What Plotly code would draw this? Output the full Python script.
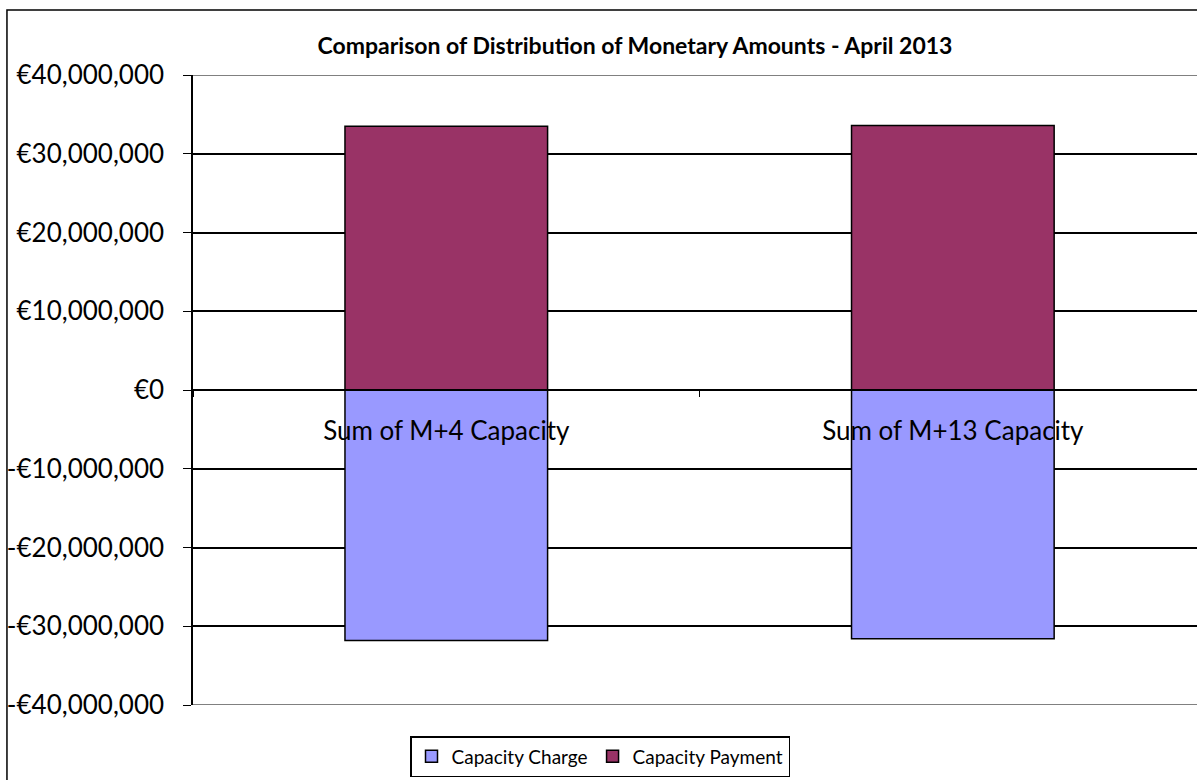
import plotly.graph_objects as go

# Data
categories = ["Sum of M+4 Capacity", "Sum of M+13 Capacity"]
capacity_charge = [-31800000, -31600000]
capacity_payment = [33500000, 33600000]
y_ticks = [-40000000, -30000000, -20000000, -10000000, 0,
           10000000, 20000000, 30000000, 40000000]


def euro(v):
    s = "€{:,}".format(abs(v))
    return "-" + s if v < 0 else s


FONT = "Lato"

fig = go.Figure()
fig.add_trace(go.Bar(
    x=categories, y=capacity_charge, name="Capacity Charge",
    marker=dict(color="#9999FF", line=dict(color="black", width=1.5)),
))
fig.add_trace(go.Bar(
    x=categories, y=capacity_payment, name="Capacity Payment",
    marker=dict(color="#993366", line=dict(color="black", width=1.5)),
))

fig.update_layout(
    width=1197, height=780,
    barmode="relative", bargap=0.6,
    plot_bgcolor="white", paper_bgcolor="white",
    margin=dict(l=193, r=0, t=75, b=75, autoexpand=False),
    font=dict(family=FONT, color="black"),
    title=dict(
        text="<b>Comparison of Distribution of Monetary Amounts - April 2013</b>",
        font=dict(family=FONT, size=23, color="black"),
        x=635 / 1197, xanchor="center", xref="container",
        y=1 - 46 / 780, yanchor="middle", yref="container",
    ),
    legend=dict(
        orientation="h", xref="container", yref="container",
        x=410 / 1197, xanchor="left", y=1 - 736 / 780, yanchor="top",
        bordercolor="black", borderwidth=1.5, bgcolor="white",
        font=dict(family=FONT, size=19, color="black"),
        traceorder="normal", itemwidth=30,
    ),
    showlegend=True,
)

fig.update_xaxes(
    type="category", range=[-0.5, 1.482],
    anchor="free", position=0.5,
    showline=True, linecolor="black", linewidth=1.5,
    ticks="outside", tickson="boundaries", ticklen=6, tickcolor="black",
    ticklabelstandoff=18,
    showgrid=False, tickfont=dict(family=FONT, size=26, color="black"),
)
fig.update_yaxes(
    range=[-40000000, 40000000],
    tickmode="array", tickvals=y_ticks, ticktext=[euro(v) for v in y_ticks],
    showgrid=True, gridcolor="black", gridwidth=1.5,
    showline=True, linecolor="black", linewidth=1.5,
    ticks="outside", ticklen=8, tickcolor="black", ticklabelstandoff=14,
    zeroline=False, tickfont=dict(family=FONT, size=26, color="black"),
)

# grey plot-area border at top and bottom
for yv in (y_ticks[0], y_ticks[-1]):
    fig.add_shape(type="line", xref="x domain", yref="y",
                  x0=0, x1=1, y0=yv, y1=yv,
                  line=dict(color="#808080", width=2), layer="above")

# outer chart border (right/bottom edges fall outside the page)
fig.add_shape(type="rect", xref="paper", yref="paper",
              x0=-0.1853, x1=1.05, y0=-0.2, y1=1.1032,
              line=dict(color="black", width=1.5), layer="above")

fig.write_html(
    "out.html",
    config={"displayModeBar": False},
    post_script="document.body.style.margin='0';document.body.style.overflow='hidden';",
)
